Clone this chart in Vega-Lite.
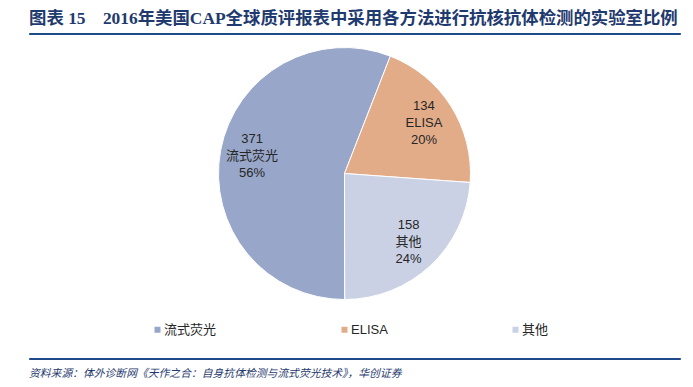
{
  "$schema": "https://vega.github.io/schema/vega-lite/v6.json",
  "padding": {"left": 28, "top": 9, "right": 10, "bottom": 4},
  "background": "white",
  "bounds": "flush",
  "spacing": 9,
  "config": {"font": "Liberation Sans, Noto Sans CJK SC"},
  "datasets": {
    "methods": [
      {"name": "流式荧光", "value": 371, "pct": "56%"},
      {"name": "ELISA", "value": 134, "pct": "20%"},
      {"name": "其他", "value": 158, "pct": "24%"}
    ],
    "blank": [{"k": 1}]
  },
  "vconcat": [
    {
      "width": 651,
      "height": 1,
      "data": {"name": "blank"},
      "view": {"stroke": "#1F4A8A", "strokeWidth": 1, "fill": "#1F4A8A"},
      "title": {
        "text": "图表 15 \u00a0\u00a0\u00a02016年美国CAP全球质评报表中采用各方法进行抗核抗体检测的实验室比例",
        "anchor": "start",
        "frame": "group",
        "orient": "top",
        "offset": 3,
        "font": "Liberation Serif, Noto Sans CJK SC",
        "fontSize": 17.4,
        "fontWeight": "bold",
        "color": "#1F3A6E"
      },
      "mark": {"type": "point", "opacity": 0},
      "encoding": {}
    },
    {
      "bounds": "flush",
      "spacing": 54,
      "resolve": {"scale": {"color": "independent"}, "legend": {"color": "independent"}},
      "vconcat": [
        {
          "width": 631,
          "height": 261,
          "view": {"stroke": null},
          "data": {"name": "methods"},
          "encoding": {
            "theta": {"field": "value", "type": "quantitative", "stack": true, "scale": {"range": [0.3723, 6.6555]}},
            "order": {"field": "name", "sort": "ascending"}
          },
          "layer": [
            {
              "mark": {"type": "arc", "outerRadius": 126, "stroke": "white", "strokeWidth": 1},
              "encoding": {
                "color": {
                  "field": "name",
                  "type": "nominal",
                  "scale": {"domain": ["流式荧光", "ELISA", "其他"], "range": ["#98A7C9", "#E2AC89", "#CAD1E5"]},
                  "legend": {
                    "title": null,
                    "orient": "none",
                    "legendX": 122,
                    "legendY": 280,
                    "direction": "horizontal",
                    "symbolType": "square",
                    "symbolSize": 36,
                    "symbolStrokeWidth": 0,
                    "labelFontSize": 13,
                    "labelColor": "#262626",
                    "labelOffset": 0,
                    "columnPadding": 121,
                    "padding": 0
                  }
                }
              }
            },
            {
              "mark": {"type": "text", "radius": 94, "dy": -17, "fontSize": 13, "color": "#262626"},
              "encoding": {"text": {"field": "value", "type": "quantitative"}}
            },
            {
              "mark": {"type": "text", "radius": 94, "dy": 0, "fontSize": 13, "color": "#262626"},
              "encoding": {"text": {"field": "name", "type": "nominal"}}
            },
            {
              "mark": {"type": "text", "radius": 94, "dy": 17, "fontSize": 13, "color": "#262626"},
              "encoding": {"text": {"field": "pct", "type": "nominal"}}
            }
          ]
        },
        {
          "width": 651,
          "height": 1,
          "data": {"name": "blank"},
          "view": {"stroke": "#1F4A8A", "strokeWidth": 1, "fill": "#1F4A8A"},
          "title": {
            "text": "资料来源：体外诊断网《天作之合：自身抗体检测与流式荧光技术》，华创证券",
            "anchor": "start",
            "frame": "group",
            "orient": "bottom",
            "offset": 7,
            "fontSize": 10.8,
            "fontStyle": "italic",
            "fontWeight": "normal",
            "color": "#1F3A6E"
          },
          "mark": {"type": "point", "opacity": 0},
          "encoding": {}
        }
      ]
    }
  ]
}
